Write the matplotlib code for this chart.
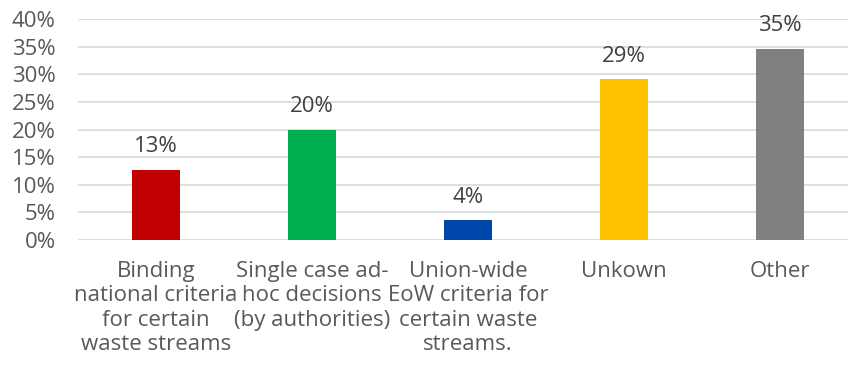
import matplotlib
matplotlib.use("Agg")
import matplotlib.pyplot as plt
from matplotlib.ticker import PercentFormatter

categories = [
    "Binding\nnational criteria\nfor certain\nwaste streams",
    "Single case ad-\nhoc decisions\n(by authorities)",
    "Union-wide\nEoW criteria for\ncertain waste\nstreams.",
    "Unkown",
    "Other",
]
shares = [12.7, 20.0, 3.6, 29.1, 34.6]
colors = ["#C00000", "#00B050", "#0047AB", "#FFC000", "#808080"]

plt.rcParams["font.family"] = ["Open Sans", "DejaVu Sans"]
FS = 16

fig = plt.figure(figsize=(8.48, 3.68), dpi=100)
# axes run slightly past the right edge, as the chart was clipped there
ax = fig.add_axes([78 / 848, 1 - 240 / 368, 780 / 848, 221 / 368])

x = range(len(categories))
bars = ax.bar(x, shares, width=0.314, color=colors, zorder=3)

for rect, v in zip(bars, shares):
    ax.annotate(f"{v:.0f}%", (rect.get_x() + rect.get_width() / 2, v),
                xytext=(0, 9), textcoords="offset points",
                ha="center", va="bottom", fontsize=FS, color="#404040")

ax.set_xlim(-0.5, 4.5)
ax.set_ylim(0, 40)
ax.set_yticks(range(0, 41, 5))
ax.yaxis.set_major_formatter(PercentFormatter(decimals=0))
ax.set_xticks(list(x))
ax.set_xticklabels(categories, linespacing=1.22)
ax.tick_params(axis="y", length=0, pad=16, labelsize=FS, labelcolor="#595959")
ax.tick_params(axis="x", length=0, pad=15, labelsize=FS, labelcolor="#595959")
ax.grid(True, axis="y", color="#D9D9D9", linewidth=1.2, zorder=0)
ax.set_axisbelow(True)
for s in ax.spines.values():
    s.set_visible(False)

fig.savefig("out.png", dpi=100)
